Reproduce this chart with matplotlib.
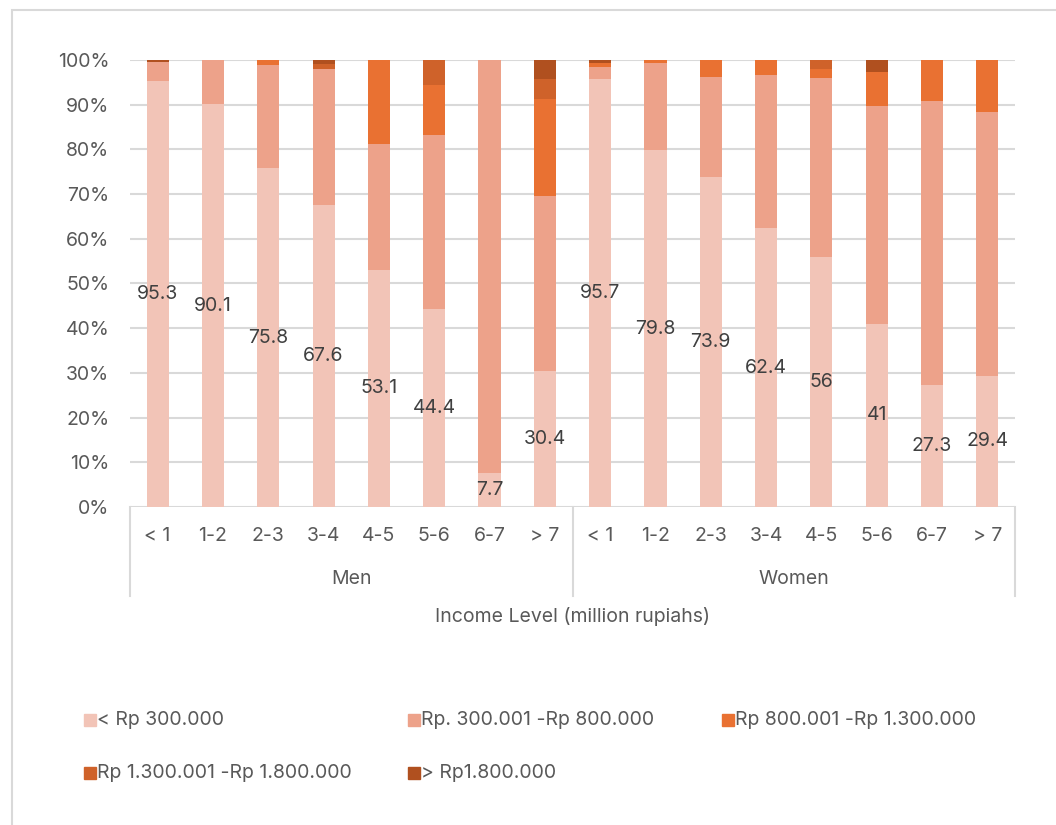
import matplotlib
matplotlib.use('Agg')
import matplotlib.pyplot as plt
from matplotlib.patches import Rectangle
import numpy as np

plt.rcParams['font.family'] = ['Inter', 'DejaVu Sans']

income_levels = ['< 1', '1-2', '2-3', '3-4', '4-5', '5-6', '6-7', '> 7']
groups = ['Men', 'Women']
series_names = ['< Rp 300.000', 'Rp. 300.001 -Rp 800.000', 'Rp 800.001 -Rp 1.300.000',
                'Rp 1.300.001 -Rp 1.800.000', '> Rp1.800.000']

# shares (%) per income level, men first then women
below_300k = [95.3, 90.1, 75.8, 67.6, 53.1, 44.4, 7.7, 30.4,
              95.7, 79.8, 73.9, 62.4, 56, 41, 27.3, 29.4]
rp_300k_800k = [4.2, 9.9, 23.0, 30.4, 28.0, 38.8, 92.3, 39.2,
                2.8, 19.6, 22.4, 34.2, 40.0, 48.7, 63.5, 58.9]
rp_800k_1300k = [0.0, 0.0, 1.2, 0.0, 18.9, 11.2, 0.0, 21.7,
                 0.8, 0.6, 3.7, 3.4, 2.0, 7.7, 9.2, 11.7]
rp_1300k_1800k = [0.0, 0.0, 0.0, 1.0, 0.0, 5.6, 0.0, 4.4,
                  0.0, 0.0, 0.0, 0.0, 2.0, 0.0, 0.0, 0.0]
above_1800k = [0.5, 0.0, 0.0, 1.0, 0.0, 0.0, 0.0, 4.3,
               0.7, 0.0, 0.0, 0.0, 0.0, 2.6, 0.0, 0.0]

series = [below_300k, rp_300k_800k, rp_800k_1300k, rp_1300k_1800k, above_1800k]
colors = ['#F2C4B7', '#EDA28A', '#E97132', '#CF622A', '#B0501F']
FS = 14
TXT = '#595959'

W, H = 1056, 825
fig = plt.figure(figsize=(W / 100, H / 100), dpi=100)
fig.patches.append(Rectangle((12 / W, -0.02), 1.1, 1 - 10 / H + 0.02, transform=fig.transFigure,
                             fill=False, edgecolor='#D9D9D9', linewidth=1.5))

ax = fig.add_axes([130 / W, 1 - 507 / H, (1015 - 130) / W, (507 - 60) / H])
x = np.arange(len(below_300k))
bottom = np.zeros(len(x))
for vals, col, name in zip(series, colors, series_names):
    ax.bar(x, vals, bottom=bottom, width=0.4, color=col, label=name, zorder=3)
    bottom += np.array(vals)

# value labels centred in the lowest segment
for xi, v in zip(x, below_300k):
    ax.text(xi, v / 2, f'{v:g}', ha='center', va='center', fontsize=FS, color='#404040', zorder=4)

ax.set_xlim(-0.5, len(x) - 0.5)
ax.set_ylim(0, 100)
ax.set_yticks(range(0, 101, 10))
ax.set_yticklabels([f'{t}%' for t in range(0, 101, 10)], fontsize=FS, color=TXT)
ax.tick_params(axis='y', length=0, pad=15)
ax.grid(True, axis='y', color='#D9D9D9', linewidth=1.5, zorder=0)
for s in ax.spines.values():
    s.set_visible(False)
ax.set_xticks([])

# two-level category axis
xt = ax.get_xaxis_transform()
for i, lvl in enumerate(income_levels * 2):
    ax.text(i, -0.065, lvl, transform=xt, ha='center', va='center', fontsize=FS, color=TXT)
for gi, g in enumerate(groups):
    ax.text(gi * 8 + 3.5, -0.162, g, transform=xt, ha='center', va='center', fontsize=FS, color=TXT)
for xb in [-0.5, 7.5, 15.5]:
    ax.plot([xb, xb], [0, -0.2], transform=xt, color='#D9D9D9', linewidth=1.5, clip_on=False)
ax.text(7.5, -0.245, 'Income Level (million rupiahs)', transform=xt, ha='center', va='center',
        fontsize=FS, color=TXT)

# legend, laid out in three columns
legend_pos = [(84, 720), (408, 720), (722, 720), (84, 773), (408, 773)]
for (lx, ly), col, name in zip(legend_pos, colors, series_names):
    fig.patches.append(Rectangle((lx / W, 1 - (ly + 6) / H), 12 / W, 12 / H,
                                 transform=fig.transFigure, color=col))
    fig.text((lx + 13) / W, 1 - ly / H, name, ha='left', va='center', fontsize=FS, color=TXT)

fig.savefig('out.png', dpi=100)
